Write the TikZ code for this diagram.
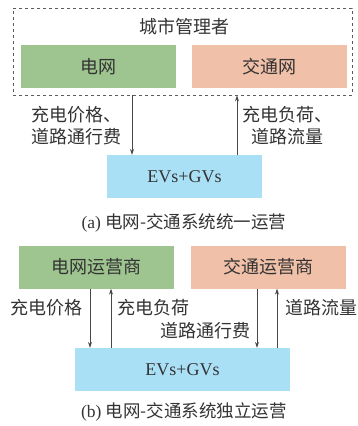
\documentclass[tikz,border=0pt]{standalone}
\usepackage{fontspec}
\setmainfont{Liberation Serif}
\newfontfamily\cjk{Noto Sans CJK SC}
\usetikzlibrary{arrows.meta}
\definecolor{gfill}{HTML}{9EC58F}
\definecolor{ofill}{HTML}{F0C0A8}
\definecolor{bfill}{HTML}{AAE0F6}
\definecolor{txt}{HTML}{333333}
\begin{document}
\begin{tikzpicture}[x=1pt,y=-1pt,
  box/.style={draw=none,minimum width=155pt,minimum height=43pt,inner sep=0pt,text=txt,font=\fontsize{18}{21}\selectfont\cjk},
  lbl/.style={text=txt,font=\fontsize{18}{22}\selectfont\cjk,inner sep=0pt,align=center},
  captext/.style={text=txt,font=\fontsize{17.5}{20}\selectfont,inner sep=0pt},
  arr/.style={draw=txt!90,line width=0.8pt,-{Stealth[length=6pt,width=4pt]}}]
\useasboundingbox (0,0) rectangle (357,426);
% (a)
\node[draw=txt!80,dashed,line width=0.7pt,minimum width=339pt,minimum height=87pt,inner sep=0pt] (mgr) at (182.5,51.5) {};
\node[lbl] (mgrt) at (184,27) {城市管理者};
\node[box,fill=gfill] (gA) at (98.5,66.5) {电网};
\node[box,fill=ofill] (oA) at (269.5,66.5) {交通网};
\node[box,fill=bfill,font=\fontsize{18}{21}\selectfont] (eA) at (184.5,176.5) {EVs+GVs};
\coordinate (xa1) at (132,0);
\coordinate (xa2) at (237,0);
\draw[arr] (xa1 |- mgr.south) -- (xa1 |- eA.north);
\draw[arr] (xa2 |- eA.north) -- (xa2 |- mgr.south);
\node[lbl] (la1) at (76.5,126) {充电价格、\\道路通行费};
\node[lbl] (la2) at (287,126) {充电负荷、\\道路流量};
\node[captext] (capa) at (184,223) {(a) {\cjk 电网-交通系统统一运营}};
% (b)
\node[box,fill=gfill] (gB) at (96.5,267) {电网运营商};
\node[box,fill=ofill] (oB) at (268.5,267) {交通运营商};
\node[box,fill=bfill,minimum width=215pt,font=\fontsize{18}{21}\selectfont] (eB) at (182.5,369.5) {EVs+GVs};
\coordinate (xb1) at (90,0);
\coordinate (xb2) at (111,0);
\coordinate (xb3) at (257,0);
\coordinate (xb4) at (277,0);
\draw[arr] (xb1 |- gB.south) -- (xb1 |- eB.north);
\draw[arr] (xb2 |- eB.north) -- (xb2 |- gB.south);
\draw[arr] (xb3 |- oB.south) -- (xb3 |- eB.north);
\draw[arr] (xb4 |- eB.north) -- (xb4 |- oB.south);
\node[lbl] (lb1) at (46.5,308) {充电价格};
\node[lbl] (lb2) at (153,308) {充电负荷};
\node[lbl] (lb3) at (205.5,331) {道路通行费};
\node[lbl] (lb4) at (321,308) {道路流量};
\node[captext] (capb) at (184,412) {(b) {\cjk 电网-交通系统独立运营}};
\end{tikzpicture}
\end{document}
